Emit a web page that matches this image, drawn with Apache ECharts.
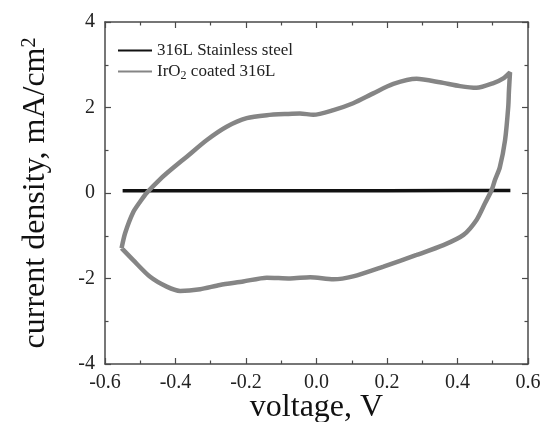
<!DOCTYPE html>
<html>
<head>
<meta charset="utf-8">
<script src="https://cdn.jsdelivr.net/npm/echarts@6/dist/echarts.min.js"></script>
<style>
html,body{margin:0;padding:0;background:#fff;}
#main{width:543px;height:422px;}
</style>
</head>
<body>
<div id="main"></div>
<script>
// Data
var seriesNames = ['316L Stainless steel', 'IrO2 coated 316L'];
var xTicks = [-0.6, -0.4, -0.2, 0.0, 0.2, 0.4, 0.6];
var yTicks = [-4, -2, 0, 2, 4];

// 316L Stainless steel: flat trace near zero (voltage, current density)
var steelVoltage = [-0.55, -0.4, -0.2, 0.0, 0.2, 0.4, 0.55];
var steelCurrent = [0.05, 0.05, 0.05, 0.05, 0.05, 0.06, 0.06];

// IrO2 coated 316L: cyclic voltammogram loop (anodic sweep then cathodic sweep)
var irVoltage = [
  -0.553, -0.543, -0.52, -0.50, -0.482, -0.449, -0.425, -0.368, -0.311, -0.255,
  -0.198, -0.141, -0.08, -0.047, -0.009, 0.048, 0.104, 0.161, 0.218, 0.284,
  0.35, 0.407, 0.454, 0.502, 0.53, 0.549,
  0.546, 0.544, 0.535, 0.52, 0.506, 0.497, 0.478, 0.454, 0.417, 0.36,
  0.284, 0.19, 0.104, 0.048, -0.018, -0.075, -0.141, -0.208, -0.274,
  -0.33, -0.387, -0.425, -0.472, -0.52, -0.553
];
var irCurrent = [
  -1.29, -0.94, -0.45, -0.20, 0.0, 0.28, 0.46, 0.85, 1.24, 1.55,
  1.75, 1.82, 1.85, 1.86, 1.83, 1.94, 2.10, 2.33, 2.55, 2.67,
  2.59, 2.50, 2.46, 2.57, 2.68, 2.82,
  2.40, 2.02, 1.24, 0.60, 0.30, 0.07, -0.24, -0.63, -0.98, -1.22,
  -1.45, -1.72, -1.95, -2.02, -1.97, -2.00, -1.98, -2.07, -2.15,
  -2.25, -2.29, -2.19, -1.96, -1.57, -1.29
];

function pairs(xs, ys) { return xs.map(function (x, i) { return [x, ys[i]]; }); }

var serif = 'Liberation Serif';
var frameColor = '#4a4a4a';

function xAxisCfg(pos, showLabels) {
  return {
    type: 'value', position: pos, min: xTicks[0], max: xTicks[xTicks.length - 1],
    interval: xTicks[1] - xTicks[0],
    axisLine: { show: true, onZero: false, lineStyle: { color: frameColor, width: 1.5 } },
    axisTick: { show: true, inside: true, length: 6, lineStyle: { color: frameColor, width: 1.2 } },
    minorTick: { show: true, splitNumber: 2, length: 3.5, lineStyle: { color: frameColor, width: 1.2 } },
    splitLine: { show: false },
    axisLabel: {
      show: showLabels, margin: 9, color: '#222', fontFamily: serif, fontSize: 20,
      formatter: function (v) { return Math.abs(v) < 1e-9 ? '0.0' : v.toFixed(1); }
    }
  };
}
function yAxisCfg(pos, showLabels) {
  return {
    type: 'value', position: pos, min: yTicks[0], max: yTicks[yTicks.length - 1],
    interval: yTicks[1] - yTicks[0],
    axisLine: { show: true, onZero: false, lineStyle: { color: frameColor, width: 1.5 } },
    axisTick: { show: true, inside: true, length: 6, lineStyle: { color: frameColor, width: 1.2 } },
    minorTick: { show: true, splitNumber: 2, length: 3.5, lineStyle: { color: frameColor, width: 1.2 } },
    splitLine: { show: false },
    axisLabel: { show: showLabels, margin: 10, color: '#222', fontFamily: serif, fontSize: 20 }
  };
}

var xBottom = xAxisCfg('bottom', true);
xBottom.name = 'voltage, V';
xBottom.nameLocation = 'middle';
xBottom.nameGap = 28;
xBottom.nameMoveOverlap = false;
xBottom.nameTextStyle = { fontFamily: serif, fontSize: 32, color: '#111', verticalAlign: 'top' };

var yLeft = yAxisCfg('left', true);
yLeft.name = 'current density, mA/cm{sup|2}';
yLeft.nameLocation = 'middle';
yLeft.nameGap = 53;
yLeft.nameMoveOverlap = false;
yLeft.nameTextStyle = {
  fontFamily: serif, fontSize: 32, color: '#111',
  rich: { sup: { fontFamily: serif, fontSize: 20, color: '#111', verticalAlign: 'top', padding: [0, 0, 12, 0] } }
};

var chart = echarts.init(document.getElementById('main'), null, { renderer: 'canvas' });
chart.setOption({
  animation: false,
  backgroundColor: '#fff',
  grid: { left: 105, right: 15, top: 22, bottom: 58, containLabel: false, outerBoundsMode: 'none' },
  legend: {
    orient: 'vertical', left: 113, top: 37, itemGap: 4,
    itemWidth: 34, itemHeight: 2, icon: 'rect',
    data: seriesNames,
    textStyle: {
      fontFamily: serif, fontSize: 17, color: '#222',
      rich: {
        n: { fontFamily: serif, fontSize: 17, color: '#222' },
        s: { fontFamily: serif, fontSize: 12, color: '#222', verticalAlign: 'bottom', padding: [8, 0, 0, 0] }
      }
    },
    formatter: function (name) {
      if (name === seriesNames[1]) return '{n|IrO}{s|2}{n| coated 316L}';
      return '{n|' + name + '}';
    }
  },
  xAxis: [xBottom, xAxisCfg('top', false)],
  yAxis: [yLeft, yAxisCfg('right', false)],
  series: [
    {
      name: seriesNames[0], type: 'line', xAxisIndex: 0, yAxisIndex: 0,
      data: pairs(steelVoltage, steelCurrent), symbol: 'none',
      lineStyle: { color: '#111', width: 3.5 }, itemStyle: { color: '#111' }
    },
    {
      name: seriesNames[1], type: 'line', xAxisIndex: 0, yAxisIndex: 0,
      data: pairs(irVoltage, irCurrent), symbol: 'none', smooth: 0.25,
      lineStyle: { color: '#858585', width: 4.5 }, itemStyle: { color: '#858585' }
    }
  ]
});
</script>
</body>
</html>
